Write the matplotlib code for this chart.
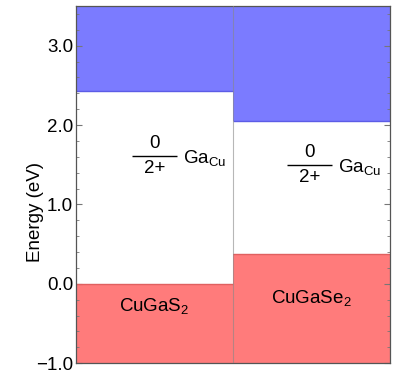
import matplotlib
matplotlib.use("Agg")
import matplotlib.pyplot as plt
from matplotlib.ticker import MultipleLocator, FuncFormatter

# ---- data ----
materials = ["CuGaS$_2$", "CuGaSe$_2$"]
vbm = [0.0, 0.37]          # valence band maximum (eV)
cbm = [2.43, 2.05]         # conduction band minimum (eV)
level = [1.61, 1.50]       # Ga_Cu (0/2+) transition level (eV)
e_min, e_max = -1.0, 3.5
yticks = [-1.0, 0.0, 1.0, 2.0, 3.0]

plt.rcParams["font.family"] = ["Liberation Sans", "DejaVu Sans"]
plt.rcParams["mathtext.fontset"] = "custom"
plt.rcParams["mathtext.rm"] = "Liberation Sans"
plt.rcParams["mathtext.it"] = "Liberation Sans"
plt.rcParams["mathtext.default"] = "rm"

FS = 13.5

fig = plt.figure(figsize=(3.93, 3.74), dpi=100)
ax = fig.add_axes([0.193, 0.029, 0.799, 0.955])

xs = [i + 0.5 for i in range(len(materials))]
blue = "#7b7bff"
red = "#ff7b7b"

ax.bar(xs, [e_max - c for c in cbm], bottom=cbm, width=1.0,
       color=blue, edgecolor="none", zorder=1)
ax.bar(xs, [v - e_min for v in vbm], bottom=e_min, width=1.0,
       color=red, edgecolor="none", zorder=1)
# band edge lines
for i in range(len(materials)):
    ax.hlines(cbm[i], i, i + 1, color="#5c5ce6", lw=1.0, zorder=2)
    ax.hlines(vbm[i], i, i + 1, color="#e06060", lw=1.0, zorder=2)
ax.axvline(1.0, color="#888888", lw=0.8, alpha=0.6, zorder=3)

# transition levels
for i in range(len(materials)):
    x0 = i + 0.355 if i == 0 else i + 0.342
    x1 = x0 + 0.29
    ax.hlines(level[i], x0, x1, color="black", lw=1.0, zorder=4)
    xm = (x0 + x1) / 2
    ax.text(xm, level[i] + 0.05, "0", ha="center", va="bottom", fontsize=FS)
    ax.text(xm, level[i] - 0.05, "2+", ha="center", va="top", fontsize=FS)
    ax.text(x1 + 0.035, level[i] - 0.03, r"Ga$_{\mathrm{Cu}}$", ha="left",
            va="center", fontsize=FS)

label_y = [-0.28, -0.18]
for i, m in enumerate(materials):
    ax.text(xs[i], label_y[i], m, ha="center", va="center", fontsize=FS)

ax.set_xlim(0, len(materials))
ax.set_ylim(e_min, e_max)
ax.set_xticks([])
ax.set_yticks(yticks)
ax.yaxis.set_major_formatter(FuncFormatter(lambda v, p: f"{v:.1f}".replace("-", "\u2212")))
ax.yaxis.set_minor_locator(MultipleLocator(0.2))
ax.tick_params(axis="y", which="both", direction="in", left=True, right=True,
               labelsize=FS, color="#777777", pad=2)
ax.tick_params(axis="y", which="major", length=4)
ax.tick_params(axis="y", which="minor", length=2)
ax.set_ylabel("Energy (eV)", fontsize=FS)
ax.yaxis.set_label_coords(-0.10, 0.423)
for s in ax.spines.values():
    s.set_color("#555555")
    s.set_linewidth(0.9)

fig.savefig("out.png", dpi=100)
